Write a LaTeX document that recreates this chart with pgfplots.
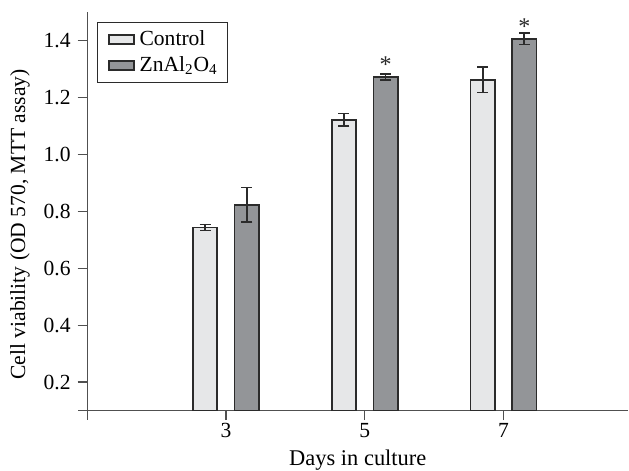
\documentclass[border=0pt]{standalone}
\usepackage{fontspec}
\setmainfont{Liberation Serif}
\usepackage{pgfplots}
\pgfplotsset{compat=1.18}
\definecolor{ctrl}{HTML}{E6E7E8}
\definecolor{zn}{HTML}{939598}
\definecolor{edge}{HTML}{2B2B2B}
\definecolor{axc}{HTML}{505050}
\pgfplotstableread{
x y e
3 0.743 0.011
5 1.121 0.022
7 1.262 0.045
}\ctrltab
\pgfplotstableread{
x y e lab
3 0.823 0.060 {}
5 1.272 0.011 *
7 1.406 0.020 *
}\zntab
\begin{document}
\begin{tikzpicture}
\begin{axis}[
  name=ax,
  scale only axis,
  width=270pt, height=198.8pt,
  xmin=1, xmax=8.8, ymin=0.1, ymax=1.5,
  ybar=8.65pt, bar width=12.12pt,
  axis lines=left,
  axis line style={-, draw=axc, line width=0.6pt},
  x axis line style={shorten <=-4.5pt},
  y axis line style={shorten <=-4.5pt},
  xtick={3,5,7},
  ytick={0.2,0.4,0.6,0.8,1.0,1.2,1.4},
  tick align=outside,
  major tick length=4.75pt,
  tick style={draw=axc, line width=0.6pt},
  yticklabel style={/pgf/number format/.cd, fixed, fixed zerofill, precision=1},
  xticklabel style={yshift=1.8pt},
  /pgf/number format/assume math mode=true,
  font=\fontsize{10.75}{13}\selectfont,
  xlabel={Days in culture},
  xlabel style={at={(axis description cs:0.5,0)}, anchor=base, yshift=-27.5pt, inner sep=0pt, font=\fontsize{11.2}{13}\selectfont},
  ylabel={Cell viability (OD 570, MTT assay)},
  ylabel style={at={(ticklabel cs:0.467)}},
  legend style={at={(rel axis cs:0.0185,0.975)}, anchor=north west,
    draw=edge, line width=0.6pt, font=\fontsize{10.75}{13}\selectfont,
    row sep=0pt},
  legend cell align=left,
  legend image code/.code={\path (-2pt,0); \draw[#1] (0pt,-2.25pt) rectangle (12.5pt,2.25pt); \path (13pt,0);},
  every axis plot/.append style={draw=edge, line width=0.85pt},
  error bars/error bar style={line width=0.85pt, draw=edge},
  error bars/error mark options={rotate=90, mark size=2.75pt, line width=0.85pt, draw=edge},
]
\addplot[fill=ctrl, error bars/.cd, y dir=both, y explicit]
  table[x=x, y=y, y error=e] {\ctrltab};
\addplot[fill=zn, error bars/.cd, y dir=both, y explicit,
  /pgfplots/.cd, point meta=explicit symbolic,
  nodes near coords,
  nodes near coords style={anchor=center, yshift=6.2pt, inner sep=0pt, text=edge, font=\fontsize{12}{13}\selectfont}]
  table[x=x, y=y, y error=e, meta=lab] {\zntab};
\legend{Control, ZnAl\textsubscript{2}O\textsubscript{4}}
\end{axis}
\path (ax.south west) ++(-43.5pt,0);
\path (ax.north west) ++(0,6pt);
\end{tikzpicture}
\end{document}
